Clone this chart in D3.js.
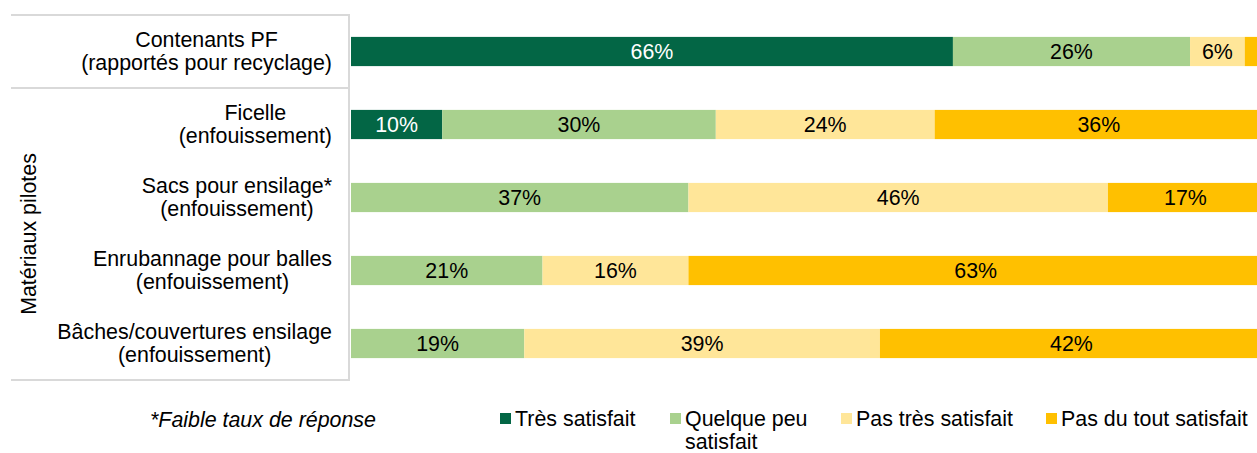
<!DOCTYPE html>
<html>
<head>
<meta charset="utf-8">
<script src="https://cdn.jsdelivr.net/npm/d3@7"></script>
<style>
  body { margin: 0; background: #fff; }
  text { font-family: "Liberation Sans", Arial, sans-serif; }
</style>
</head>
<body>
<script>
const categories = [
  ["Contenants PF", "(rapportés pour recyclage)"],
  ["Ficelle", "(enfouissement)"],
  ["Sacs pour ensilage*", "(enfouissement)"],
  ["Enrubannage pour balles", "(enfouissement)"],
  ["Bâches/couvertures ensilage", "(enfouissement)"],
];
const series = ["Très satisfait", "Quelque peu satisfait", "Pas très satisfait", "Pas du tout satisfait"];
const tresSatisfait = [66, 10, 0, 0, 0];
const quelquePeu = [26, 30, 37, 21, 19];
const pasTres = [6, 24, 46, 16, 39];
const pasDuTout = [2, 36, 17, 63, 42];
const colors = ["#036645", "#a9d18e", "#ffe699", "#ffc000"];
const groupLabel = "Matériaux pilotes";
const footnote = "*Faible taux de réponse";

const width = 1257;
const height = 453;
const fontSize = 21.4;

const svg = d3.select("body").append("svg")
  .attr("width", width)
  .attr("height", height);

const x = d3.scaleLinear().domain([0, 100]).range([351, 1263]);
const y = d3.scaleBand()
  .domain(d3.range(categories.length))
  .range([15, 380])
  .paddingInner(0.6)
  .paddingOuter(0.3);

const values = [tresSatisfait, quelquePeu, pasTres, pasDuTout];
const rows = categories.map((c, i) => {
  const row = { i };
  series.forEach((s, j) => { row[s] = values[j][i]; });
  return row;
});
const stacked = d3.stack().keys(series)(rows);

// frame lines of the category table
const lineColor = "#d9d9d9";
const step = y.step();
svg.append("g")
  .attr("stroke", lineColor)
  .attr("stroke-width", 2)
  .selectAll("line")
  .data([15, 15 + step, 380])
  .join("line")
  .attr("x1", 11).attr("x2", 349)
  .attr("y1", d => d).attr("y2", d => d);
svg.append("line")
  .attr("x1", 349).attr("x2", 349)
  .attr("y1", 14).attr("y2", 381)
  .attr("stroke", lineColor)
  .attr("stroke-width", 2);

// bars
const layer = svg.append("g").selectAll("g")
  .data(stacked)
  .join("g")
  .attr("fill", (d, i) => colors[i]);

layer.selectAll("rect")
  .data(d => d)
  .join("rect")
  .attr("x", d => x(d[0]))
  .attr("y", d => y(d.data.i))
  .attr("width", d => x(d[1]) - x(d[0]))
  .attr("height", y.bandwidth());

// value labels
svg.append("g").selectAll("g")
  .data(stacked)
  .join("g")
  .attr("fill", (d, i) => i === 0 ? "#fff" : "#000")
  .selectAll("text")
  .data(d => d.filter(v => v[1] - v[0] >= 3))
  .join("text")
  .attr("x", d => (x(d[0]) + x(d[1])) / 2)
  .attr("y", d => y(d.data.i) + y.bandwidth() / 2)
  .attr("dy", "0.35em")
  .attr("text-anchor", "middle")
  .style("font-size", fontSize + "px")
  .text(d => Math.round(d[1] - d[0]) + "%");

// category labels: lines centered on each other, block right aligned
const blockRight = 332;
const catG = svg.append("g");
categories.forEach((lines, i) => {
  const cy = y(i) + y.bandwidth() / 2;
  const texts = lines.map((t, k) => catG.append("text")
    .attr("y", cy + (k - (lines.length - 1) / 2) * 23)
    .attr("dy", "0.35em")
    .attr("text-anchor", "middle")
    .style("font-size", fontSize + "px")
    .text(t));
  const w = d3.max(texts, t => t.node().getComputedTextLength());
  texts.forEach(t => t.attr("x", blockRight - w / 2));
});

svg.append("text")
  .attr("transform", `translate(28, ${(15 + step + 380) / 2}) rotate(-90)`)
  .attr("text-anchor", "middle")
  .attr("dy", "0.35em")
  .style("font-size", fontSize + "px")
  .text(groupLabel);

// footnote and legend
const legendY = 418;
svg.append("text")
  .attr("x", 150)
  .attr("y", legendY + 2)
  .attr("dy", "0.35em")
  .style("font-size", fontSize + "px")
  .style("font-style", "italic")
  .text(footnote);

const legendX = [500, 670, 841, 1046];
const legendLines = [["Très satisfait"], ["Quelque peu", "satisfait"], ["Pas très satisfait"], ["Pas du tout satisfait"]];
const legend = svg.append("g").selectAll("g")
  .data(series)
  .join("g")
  .attr("transform", (d, i) => `translate(${legendX[i]}, ${legendY})`);
legend.append("rect")
  .attr("x", 0).attr("y", -5)
  .attr("width", 11).attr("height", 11)
  .attr("fill", (d, i) => colors[i]);
legend.each(function (d, i) {
  const g = d3.select(this);
  legendLines[i].forEach((t, k) => {
    g.append("text")
      .attr("x", 15)
      .attr("y", k * 23.5)
      .attr("dy", "0.35em")
      .style("font-size", fontSize + "px")
      .text(t);
  });
});
</script>
</body>
</html>
